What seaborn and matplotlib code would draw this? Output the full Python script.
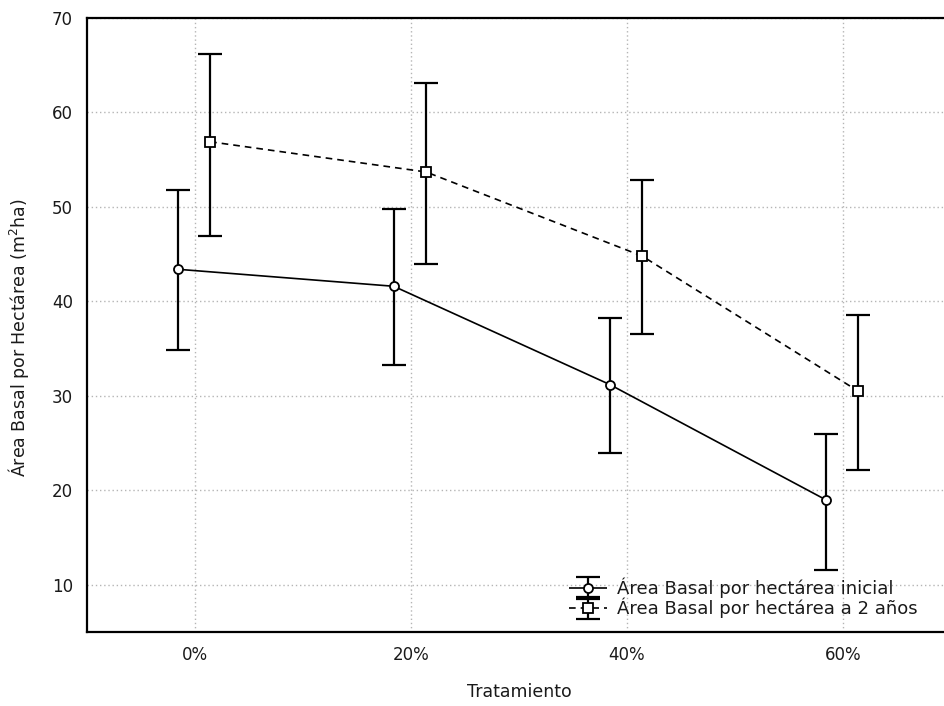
import matplotlib
matplotlib.use("Agg")
import matplotlib.pyplot as plt
import pandas as pd
import seaborn as sns
from matplotlib.container import ErrorbarContainer
from matplotlib.legend_handler import HandlerErrorbar

# Treatment levels (x axis categories)
tratamientos = ["0%", "20%", "40%", "60%"]

# Initial basal area per hectare: mean and interval limits
inicial_media = [43.4, 41.6, 31.2, 19.0]
inicial_inf = [34.9, 33.3, 24.0, 11.6]
inicial_sup = [51.8, 49.8, 38.2, 26.0]

# Basal area per hectare after 2 years: mean and interval limits
dos_anos_media = [56.9, 53.7, 44.8, 30.5]
dos_anos_inf = [46.9, 44.0, 36.5, 22.2]
dos_anos_sup = [66.2, 63.1, 52.8, 38.6]

series = ["Área Basal por hectárea inicial", "Área Basal por hectárea a 2 años"]
y_ticks = [10, 20, 30, 40, 50, 60, 70]

sns.set_theme(style="white")
plt.rcParams["font.family"] = ["DejaVu Sans"]
plt.rcParams["mathtext.default"] = "regular"
text_color = "#1a1a1a"

# Each series is nudged sideways so the intervals do not overlap
offsets = [-0.08, 0.07]
medias = [inicial_media, dos_anos_media]
infs = [inicial_inf, dos_anos_inf]
sups = [inicial_sup, dos_anos_sup]

rows = []
for s, name in enumerate(series):
    for i, _ in enumerate(tratamientos):
        rows.append({"x": i + offsets[s], "y": medias[s][i], "serie": name,
                     "lo": infs[s][i], "hi": sups[s][i]})
df = pd.DataFrame(rows)

fig = plt.figure(figsize=(9.45, 7.06), dpi=100)
ax = fig.add_axes([87 / 945, 1 - 632 / 706, 864 / 945, 614 / 706])

sns.lineplot(data=df, x="x", y="y", style="serie", style_order=series,
             markers=["o", "s"], dashes=[(1, 0), (4, 3)], color="black",
             linewidth=1.2, markersize=6.5, markerfacecolor="white",
             markeredgecolor="black", markeredgewidth=1.3,
             legend=False, ax=ax, zorder=4)
data_lines = list(ax.lines)

handles = []
for s, name in enumerate(series):
    sub = df[df["serie"] == name]
    eb = ax.errorbar(sub["x"], sub["y"],
                     yerr=[sub["y"] - sub["lo"], sub["hi"] - sub["y"]],
                     fmt="none", ecolor="black", elinewidth=1.6,
                     capsize=8.5, capthick=1.6, zorder=3)
    _, caps, bars = eb.lines
    handles.append(ErrorbarContainer((data_lines[s], caps, bars),
                                     has_xerr=False, has_yerr=True, label=name))

ax.set_xlim(-0.5, 3.5)
ax.set_ylim(5, 70)
ax.set_xticks(range(len(tratamientos)))
ax.set_xticklabels(tratamientos)
ax.set_yticks(y_ticks)

ax.grid(True, which="major", color="#b5b5b5", linestyle=(0, (1, 2)), linewidth=1)
ax.set_axisbelow(True)

for side in ["left", "bottom", "top"]:
    ax.spines[side].set_color("black")
    ax.spines[side].set_linewidth(1.6)
ax.spines["right"].set_visible(False)

ax.tick_params(axis="both", direction="in", length=4, width=1.5,
               labelsize=12, colors="black", labelcolor=text_color)
ax.tick_params(axis="x", pad=10)
ax.tick_params(axis="y", pad=10)

ax.set_xlabel("Tratamiento", fontsize=12.5, color=text_color, labelpad=14)
ax.set_ylabel("Área Basal por Hectárea (m$^2$ha)", fontsize=12.5,
              color=text_color)
ax.yaxis.set_label_coords(-0.065, 0.48)

ax.legend(handles=handles, loc="lower left", bbox_to_anchor=(0.558, 0.022),
          frameon=False, fontsize=13, handlelength=2.1, handletextpad=0.55,
          labelspacing=0.0, borderpad=0, borderaxespad=0,
          labelcolor=text_color,
          handler_map={ErrorbarContainer: HandlerErrorbar(yerr_size=0.6)})

fig.savefig("out.png", dpi=100)
